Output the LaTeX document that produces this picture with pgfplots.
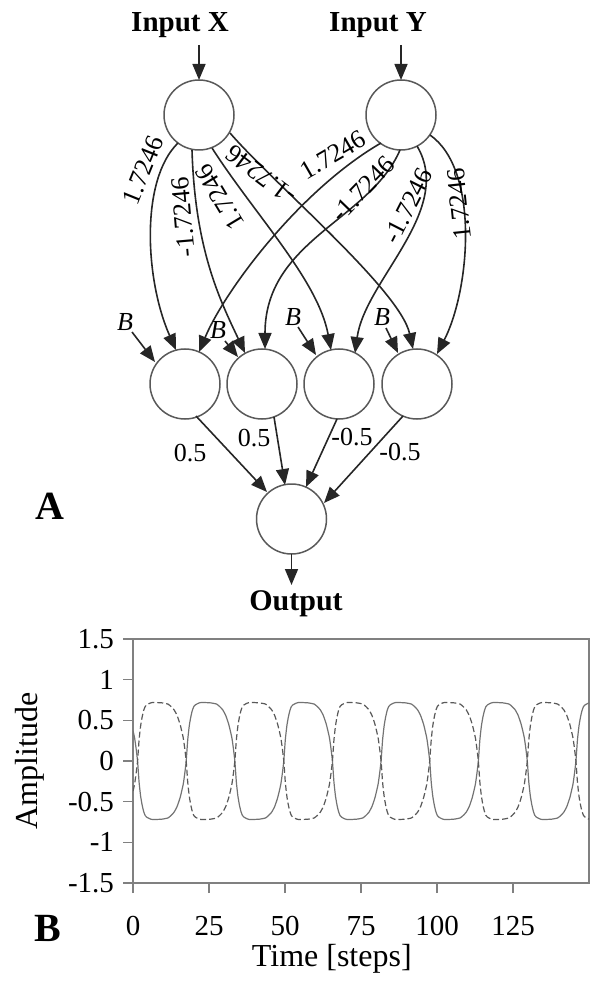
\documentclass[border=0pt]{standalone}
\usepackage{fontspec}
\setmainfont{Liberation Serif}
\usepackage{pgfplots}
\pgfplotsset{compat=1.18}
\usepackage{pgfplotstable}
\usetikzlibrary{arrows.meta}

\pgfplotstableread{
t s d
0 0.37 -0.37
0.5 0.29 -0.29
1 0.16 -0.16
1.5 0 0
2 -0.26 0.26
2.5 -0.43 0.43
3 -0.54 0.54
3.5 -0.62 0.62
4 -0.67 0.67
4.5 -0.69 0.69
5.5 -0.71 0.71
6.5 -0.72 0.72
9.5 -0.715 0.715
11.5 -0.70 0.70
12.5 -0.67 0.67
13.5 -0.63 0.63
14.5 -0.56 0.56
15.5 -0.45 0.45
16.5 -0.29 0.29
17 -0.16 0.16
17.5 0 0
18 0.26 -0.26
18.5 0.43 -0.43
19 0.54 -0.54
19.5 0.62 -0.62
20 0.67 -0.67
20.5 0.69 -0.69
21.5 0.71 -0.71
22.5 0.72 -0.72
25.5 0.715 -0.715
27.5 0.70 -0.70
28.5 0.67 -0.67
29.5 0.63 -0.63
30.5 0.56 -0.56
31.5 0.45 -0.45
32.5 0.29 -0.29
33 0.16 -0.16
33.5 0 0
34 -0.26 0.26
34.5 -0.43 0.43
35 -0.54 0.54
35.5 -0.62 0.62
36 -0.67 0.67
36.5 -0.69 0.69
37.5 -0.71 0.71
38.5 -0.72 0.72
41.6 -0.715 0.715
43.6 -0.70 0.70
44.6 -0.67 0.67
45.6 -0.63 0.63
46.6 -0.56 0.56
47.6 -0.45 0.45
48.6 -0.29 0.29
49.1 -0.16 0.16
49.6 0 0
50.1 0.26 -0.26
50.6 0.43 -0.43
51.1 0.54 -0.54
51.6 0.62 -0.62
52.1 0.67 -0.67
52.6 0.69 -0.69
53.6 0.71 -0.71
54.6 0.72 -0.72
57.6 0.715 -0.715
59.6 0.70 -0.70
60.6 0.67 -0.67
61.6 0.63 -0.63
62.6 0.56 -0.56
63.6 0.45 -0.45
64.6 0.29 -0.29
65.1 0.16 -0.16
65.6 0 0
66.1 -0.26 0.26
66.6 -0.43 0.43
67.1 -0.54 0.54
67.6 -0.62 0.62
68.1 -0.67 0.67
68.6 -0.69 0.69
69.6 -0.71 0.71
70.6 -0.72 0.72
73.6 -0.715 0.715
75.6 -0.70 0.70
76.6 -0.67 0.67
77.6 -0.63 0.63
78.6 -0.56 0.56
79.6 -0.45 0.45
80.6 -0.29 0.29
81.1 -0.16 0.16
81.6 0 0
82.1 0.26 -0.26
82.6 0.43 -0.43
83.1 0.54 -0.54
83.6 0.62 -0.62
84.1 0.67 -0.67
84.6 0.69 -0.69
85.6 0.71 -0.71
86.6 0.72 -0.72
89.6 0.715 -0.715
91.6 0.70 -0.70
92.6 0.67 -0.67
93.6 0.63 -0.63
94.6 0.56 -0.56
95.6 0.45 -0.45
96.6 0.29 -0.29
97.1 0.16 -0.16
97.6 0 0
98.1 -0.26 0.26
98.6 -0.43 0.43
99.1 -0.54 0.54
99.6 -0.62 0.62
100.1 -0.67 0.67
100.6 -0.69 0.69
101.6 -0.71 0.71
102.6 -0.72 0.72
105.6 -0.715 0.715
107.6 -0.70 0.70
108.6 -0.67 0.67
109.6 -0.63 0.63
110.6 -0.56 0.56
111.6 -0.45 0.45
112.6 -0.29 0.29
113.1 -0.16 0.16
113.6 0 0
114.1 0.26 -0.26
114.6 0.43 -0.43
115.1 0.54 -0.54
115.6 0.62 -0.62
116.1 0.67 -0.67
116.6 0.69 -0.69
117.6 0.71 -0.71
118.6 0.72 -0.72
121.7 0.715 -0.715
123.7 0.70 -0.70
124.7 0.67 -0.67
125.7 0.63 -0.63
126.7 0.56 -0.56
127.7 0.45 -0.45
128.7 0.29 -0.29
129.2 0.16 -0.16
129.7 0 0
130.2 -0.26 0.26
130.7 -0.43 0.43
131.2 -0.54 0.54
131.7 -0.62 0.62
132.2 -0.67 0.67
132.7 -0.69 0.69
133.7 -0.71 0.71
134.7 -0.72 0.72
137.7 -0.715 0.715
139.7 -0.70 0.70
140.7 -0.67 0.67
141.7 -0.63 0.63
142.7 -0.56 0.56
143.7 -0.45 0.45
144.7 -0.29 0.29
145.2 -0.16 0.16
145.7 0 0
146.2 0.26 -0.26
146.7 0.43 -0.43
147.2 0.54 -0.54
147.7 0.62 -0.62
148.2 0.67 -0.67
148.7 0.69 -0.69
149.7 0.71 -0.71
150 0.715 -0.715
}\osc

\tikzset{
  conn/.style={draw=black!85, line width=0.8pt, -{Triangle[length=8pt,width=6.5pt]}},
  neuron/.style={draw=black!65, line width=0.75pt},
  wlab/.style={font=\fontsize{13}{13}\selectfont, inner sep=0pt},
}

\begin{document}
\begin{tikzpicture}
\path[use as bounding box] (0,0) rectangle (296pt,-494pt);
\begin{scope}[x=0.5pt,y=-0.5pt]
  % input labels
  \node[anchor=base,font=\fontsize{14.5}{14.5}\selectfont\bfseries,inner sep=0pt] at (180,32) {Input X};
  \node[anchor=base,font=\fontsize{14.5}{14.5}\selectfont\bfseries,inner sep=0pt] at (378,32) {Input Y};
  \draw[conn] (199,45) -- (199,80);
  \draw[conn] (401,45) -- (401,80);
  % neurons
  \draw[neuron] (199,115) circle[radius=35];
  \draw[neuron] (401,115) circle[radius=35];
  \draw[neuron] (185,384) circle[radius=35];
  \draw[neuron] (262,384) circle[radius=35];
  \draw[neuron] (339,384) circle[radius=35];
  \draw[neuron] (417,384) circle[radius=35];
  \draw[neuron] (291.5,519) circle[radius=35];
  % input -> hidden
  \draw[conn] (178,143) .. controls (140,180) and (145,280) .. (176,350);
  \draw[conn] (192,150) .. controls (195,250) and (220,300) .. (245,353);
  \draw[conn] (212,148) .. controls (255,215) and (318,280) .. (331,350);
  \draw[conn] (230,133) .. controls (275,185) and (400,290) .. (413,349);
  \draw[conn] (381,143) .. controls (300,190) and (225,290) .. (199,352);
  \draw[conn] (400,150) .. controls (370,220) and (265,240) .. (265,349);
  \draw[conn] (417,146) .. controls (455,210) and (365,280) .. (355,353);
  \draw[conn] (430,135) .. controls (480,170) and (470,290) .. (437,354);
  % weight labels
  \node[wlab,rotate=68] at (143,170) {1.7246};
  \node[wlab,rotate=95] at (183,217) {-1.7246};
  \node[wlab,rotate=121] at (220,197) {1.7246};
  \node[wlab,rotate=143] at (261,175) {-1.7246};
  \node[wlab,rotate=30] at (333,155) {1.7246};
  \node[wlab,rotate=46] at (363,189) {-1.7246};
  \node[wlab,rotate=63] at (408,206) {-1.7246};
  \node[wlab,rotate=96] at (459,204) {1.7246};
  % bias
  \node[wlab,font=\fontsize{13}{13}\selectfont\itshape] at (125,322) {B};
  \node[wlab,font=\fontsize{13}{13}\selectfont\itshape] at (218,330) {B};
  \node[wlab,font=\fontsize{13}{13}\selectfont\itshape] at (293,317) {B};
  \node[wlab,font=\fontsize{13}{13}\selectfont\itshape] at (382,317) {B};
  \draw[conn] (132,332) -- (155,362);
  \draw[conn] (225,341) -- (238,357);
  \draw[conn] (298,327) -- (316,355);
  \draw[conn] (386,328) -- (398,353);
  % hidden -> output
  \draw[conn] (196,416) -- (267,492);
  \draw[conn] (274,417) -- (285,485);
  \draw[conn] (337,419) -- (306,487);
  \draw[conn] (403,416) -- (324,503);
  \node[wlab] at (190,453) {0.5};
  \node[wlab] at (254,438) {0.5};
  \node[wlab] at (352,437) {-0.5};
  \node[wlab] at (400,452) {-0.5};
  % output
  \draw[conn] (291.5,554) -- (291.5,585);
  \node[anchor=base,font=\fontsize{15}{15}\selectfont\bfseries,inner sep=0pt] at (296,610) {Output};
  % panel letters
  \node[font=\fontsize{20}{20}\selectfont\bfseries,inner sep=0pt] at (50,506) {A};
  \node[font=\fontsize{20}{20}\selectfont\bfseries,inner sep=0pt] at (48,928) {B};
\end{scope}
\begin{axis}[
  at={(66.5pt,-441.5pt)}, anchor=south west,
  scale only axis, width=228pt, height=122pt,
  xmin=0, xmax=150, ymin=-1.5, ymax=1.5,
  xtick={0,25,50,75,100,125},
  xticklabels={0,25,50,75,100,125},
  ytick={-1.5,-1,-0.5,0,0.5,1,1.5},
  yticklabels={-1.5,-1,-0.5,0,0.5,1,1.5},
  tick align=outside, tick pos=left,
  major tick length=5pt,
  axis line style={black!50, line width=0.6pt},
  tick style={black!50, line width=0.6pt},
  tick label style={font=\fontsize{14.5}{14.5}\selectfont},
  xticklabel style={yshift=-8pt},
  yticklabel style={xshift=-1pt},
  label style={font=\fontsize{16}{16}\selectfont},
  xlabel={Time [steps]},
  ylabel={Amplitude},
  xlabel style={at={(axis description cs:0.436,-0.31)}, anchor=center},
  ylabel style={at={(axis description cs:-0.226,0.5)}, anchor=center},
  clip=true,
]
\addplot[black!55, line width=0.6pt, smooth, tension=0.3] table[x=t,y=s] {\osc};
\addplot[black!65, line width=0.6pt, dash pattern=on 3pt off 1.5pt, smooth, tension=0.3] table[x=t,y=d] {\osc};
\end{axis}
\end{tikzpicture}
\end{document}
